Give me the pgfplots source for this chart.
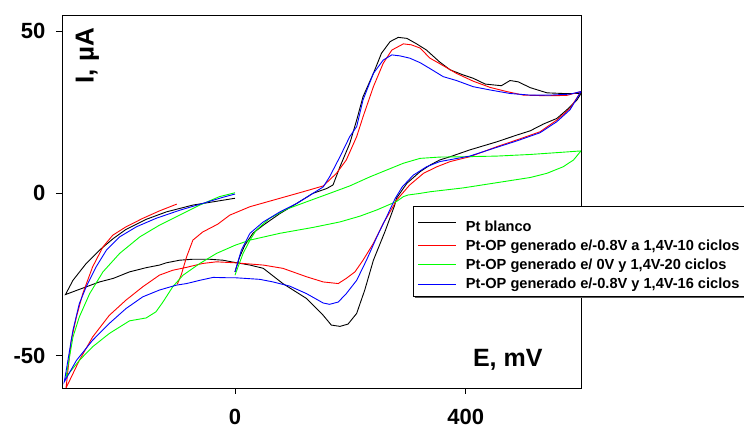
\documentclass[border=0pt]{standalone}
\usepackage{pgfplots}
\pgfplotsset{compat=1.18}
\usepackage{fontspec}
\setmainfont{Liberation Sans}

\begin{document}
\begin{tikzpicture}
\begin{axis}[
  at={(0pt,0pt)}, anchor=south west,
  scale only axis, width=519pt, height=373pt,
  xmin=-300, xmax=600, ymin=-60, ymax=55,
  xtick={0,400}, xticklabels={0,400},
  ytick={-50,0,50}, yticklabels={-50,0,50},
  tick align=outside, xtick pos=bottom, ytick pos=left,
  major tick length=6pt,
  tick style={black, line width=0.8pt},
  axis line style={line width=0.8pt},
  ticklabel style={font=\bfseries\fontsize{22}{22}\selectfont},
  xticklabel style={yshift=-12pt},
  yticklabel style={xshift=-7pt},
  legend style={at={(axis cs:308,-4)}, anchor=north west, name=leg,
    font=\bfseries\fontsize{14.6}{16}\selectfont,
    draw=black, line width=0.8pt, inner xsep=5pt, inner ysep=4pt,
    row sep=3pt, column sep=9pt,
    nodes={inner xsep=0pt}},
  legend cell align=left,
  legend image code/.code={\path (0pt,0pt) -- (38pt,0pt); \draw[#1, line width=0.9pt] (6pt,0pt) -- (38pt,0pt);},
  every axis plot/.append style={line width=0.9pt},
]
% Pt blanco
\addplot[black] coordinates {
(0,-24.2) (8,-19.6) (17,-16) (31,-12.3) (49,-9.8) (78,-6.2) (107,-3.1) (135,0) (159,1.5) (170,2.6) (182,8.2) (199,15.4) (211,22.6) (222,29.8) (240,37) (254,43.2) (269,46.8) (283,48.1) (298,47.8) (315,46.1) (332,44.2) (355,40.5) (373,38.1) (396,36.5) (413,35.5) (434,33.7) (462,33.2) (477,34.8) (491,34.4) (512,32.6) (541,31.0) (569,30.8) (600,30.8)
(593,28.8) (575,25.7) (558,23.1) (535,21.4) (512,19.3) (489,18) (454,15.9) (407,13.4) (373,11.3) (355,10.3) (338,8.7) (321,6.7) (298,3.1) (280,-1.5) (277,-3.6) (260,-11.8) (240,-20.6) (225,-29.8) (211,-37) (196,-40.3) (182,-41) (167,-40.6) (153,-37.6) (124,-32.4) (83,-27.8) (49,-23.1) (26,-22.1) (0,-21.3) (-21,-20.6) (-44,-20.3) (-73,-20.3) (-96,-20.6) (-119,-21.4) (-131,-22.1) (-154,-22.9) (-183,-24.2) (-211,-26.2) (-235,-27.3) (-270,-29.6) (-294,-31.2)
(-281,-26.8) (-258,-21.6) (-235,-17.5) (-211,-13.9) (-189,-11.1) (-154,-8.0) (-119,-5.7) (-73,-3.6) (-38,-2.6) (0,-1.5)
};
\addlegendentry{\rule{0pt}{18.5pt}Pt blanco}
% red
\addplot[red] coordinates {
(-100,-28) (-93,-25) (-84,-19.6) (-73,-14.4) (-56,-11.9) (-30,-9.5) (-9,-6.7) (26,-4.1) (78,-1.5) (118,0.5) (153,2.3) (176,6.2) (193,10.3) (211,17.5) (222,23.6) (240,32.9) (257,40.1) (272,44.2) (292,46.1) (306,45.8) (321,44.8) (338,41.7) (355,40.0) (384,37) (413,34.6) (442,32.7) (471,31.4) (500,30.3) (541,30.1) (575,30.2) (600,31.4)
(581,26.2) (558,22.6) (529,19) (489,16.5) (454,14.4) (407,11.3) (373,9.8) (350,8.2) (327,6.2) (303,2.6) (280,-2.1) (274,-4.1) (257,-9.3) (240,-15.4) (222,-20.6) (208,-24.2) (193,-26.2) (179,-27.8) (153,-27.3) (124,-25.7) (83,-23.1) (49,-22.1) (0,-21.4) (-32,-21.1) (-56,-21.6) (-84,-22.8) (-108,-23.7) (-131,-25.2) (-160,-28.8) (-189,-32.9) (-218,-37.6) (-247,-44.3) (-270,-51.5) (-293,-60)
(-284,-45.3) (-275,-38.1) (-264,-30.9) (-247,-22.7) (-229,-16.5) (-212,-12.9) (-189,-10.3) (-160,-7.7) (-131,-5.4) (-101,-3.3)
};
\addlegendentry{Pt-OP generado e/-0.8V a 1,4V-10 ciclos}
% green
\addplot[green] coordinates {
(0,-25.2) (14,-18.5) (26,-14.4) (37,-11.3) (60,-7.7) (89,-4.9) (124,-2.6) (164,0) (199,2.3) (234,5.1) (263,7.2) (292,9.3) (321,10.8) (355,11.2) (396,11.3) (454,11.5) (512,12) (569,12.7) (600,13.1)
(587,10.3) (569,8.2) (541,6.2) (512,4.9) (454,3.3) (396,1.7) (338,0.5) (321,0) (300,-0.5) (292,-1.0) (280,-2.5) (246,-5.1) (217,-7) (182,-8.8) (135,-10.5) (78,-12.3) (26,-14.4) (0,-16) (-32,-18.5) (-61,-21.6) (-90,-25.2) (-108,-28.8) (-125,-33.5) (-137,-36.5) (-154,-38.4) (-183,-39.3) (-218,-43.2) (-247,-47.3) (-270,-51.5) (-293,-56.6)
(-281,-44.3) (-270,-38.1) (-252,-30.9) (-229,-24.2) (-200,-18.5) (-165,-13.4) (-131,-9.8) (-96,-6.7) (-61,-3.6) (-27,-1) (0,0.2)
};
\addlegendentry{Pt-OP generado e/ 0V y 1,4V-20 ciclos}
% blue
\addplot[blue] coordinates {
(0,-24.2) (11,-17.5) (26,-12.3) (49,-8.8) (78,-5.7) (107,-3.1) (135,0) (153,2.0) (164,5.1) (182,11.3) (199,17.5) (211,20.6) (222,28.8) (240,37) (257,41.1) (272,42.7) (286,42.4) (303,41.7) (321,40.3) (338,38.5) (361,36) (384,34.8) (413,32.9) (442,31.9) (477,30.8) (512,30.3) (546,30.3) (581,30.6) (600,31.4)
(581,25.8) (558,22.1) (529,18.7) (489,16.2) (454,14.2) (407,11.5) (355,9.8) (332,8.2) (309,5.6) (290,2) (278,-1.5) (270,-4.5) (263,-7.2) (246,-13.4) (228,-20.6) (211,-26.8) (193,-30.9) (179,-33.5) (164,-34.2) (153,-33.8) (124,-30.9) (95,-28.6) (66,-27.3) (43,-26.5) (0,-26) (-15,-26) (-38,-25.9) (-61,-26.8) (-84,-27.8) (-102,-28.3) (-131,-29.8) (-160,-31.9) (-189,-35.5) (-218,-40.1) (-247,-45.3) (-275,-51.5) (-296,-58.1)
(-281,-42.2) (-270,-34) (-258,-28.8) (-241,-22.7) (-223,-17.5) (-200,-13.4) (-171,-10.3) (-137,-7.7) (-96,-5.2) (-56,-3.1) (-21,-1.2) (0,-0.2)
};
\addlegendentry{Pt-OP generado e/-0.8V y 1,4V-16 ciclos}

\node[rotate=90, anchor=base, font=\bfseries\fontsize{26}{26}\selectfont] at (axis cs:-245,42.4) {I, µA};
\node[anchor=base, font=\bfseries\fontsize{25}{25}\selectfont] at (axis cs:473,-53.3) {E, mV};
\end{axis}
\draw[black!65, line width=1.6pt] ([xshift=2pt,yshift=-1.2pt]leg.south west) -- ([xshift=1.2pt,yshift=-1.2pt]leg.south east) -- ([xshift=1.2pt,yshift=-2pt]leg.north east);
\pgfresetboundingbox
\useasboundingbox (-62pt,-40pt) rectangle (682pt,388pt);
\end{tikzpicture}
\end{document}
